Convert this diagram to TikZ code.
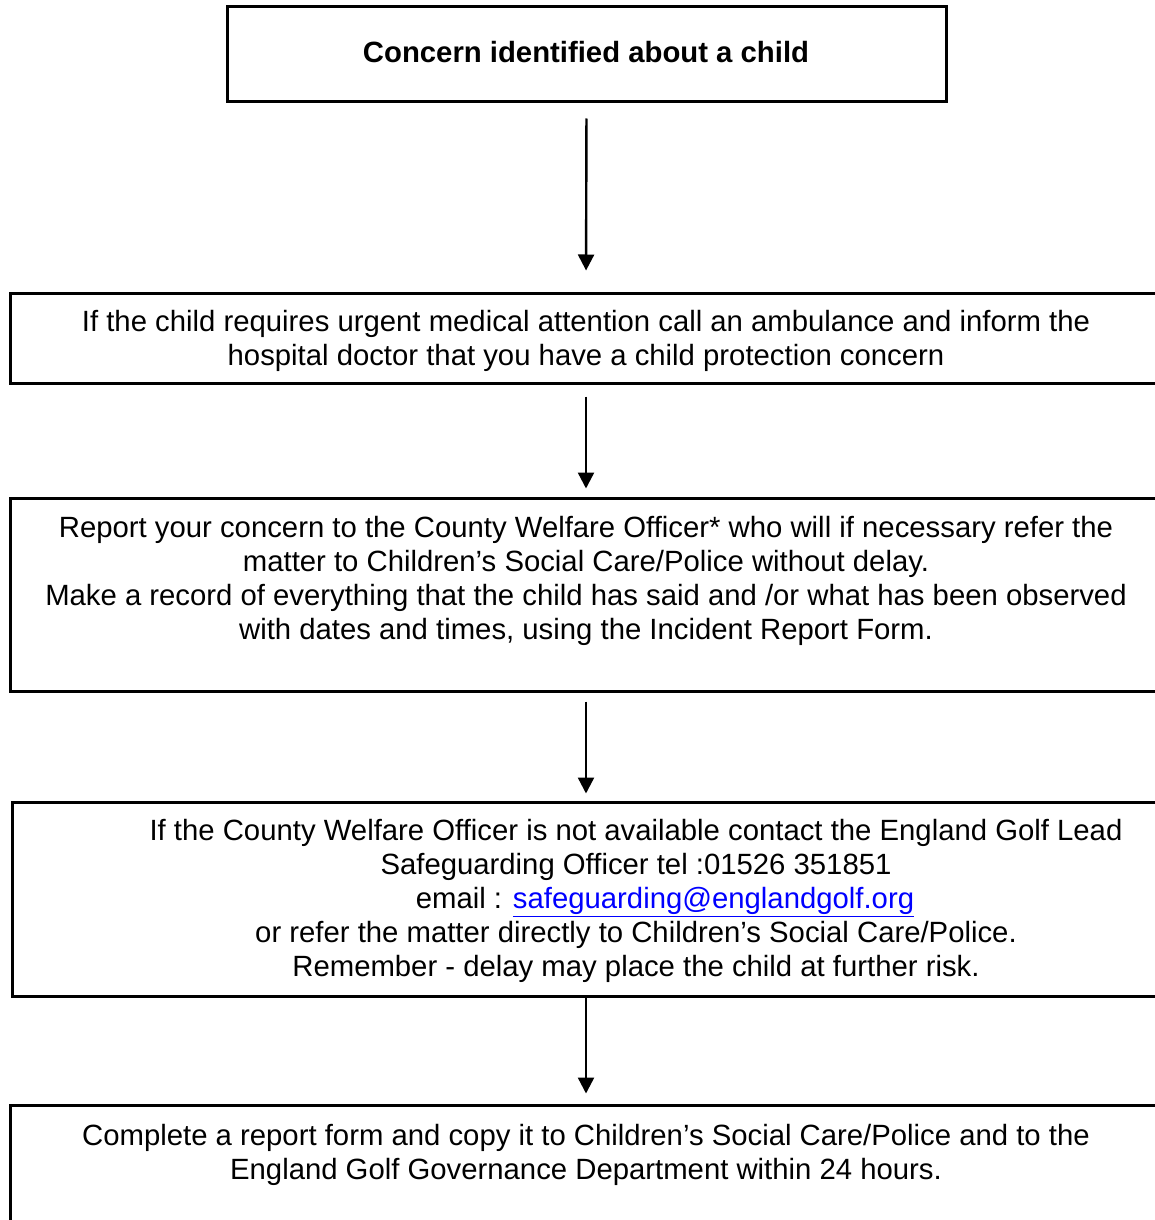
\documentclass[tikz,border=0pt]{standalone}
\usepackage{fontspec}
\setmainfont{Liberation Sans}
\usetikzlibrary{arrows.meta}
\definecolor{linkblue}{HTML}{0000FF}
\begin{document}
\begin{tikzpicture}[x=1pt,y=-1pt,
  box/.style={draw,line width=3pt,inner sep=0pt},
  txt/.style={align=center,font=\fontsize{29.3}{34}\selectfont,inner sep=0pt},
  arr/.style={line width=2.4pt,-{Triangle[width=16pt,length=16pt]}}]
\useasboundingbox (0,0) rectangle (1155,1220);
\clip (0,0) rectangle (1155,1220);
\node[box,minimum width=719pt,minimum height=95pt] (b1) at (586.5,54.5) {};
\node[box,minimum width=1152pt,minimum height=90pt] (b2) at (586,338) {};
\node[box,minimum width=1152pt,minimum height=193pt] (b3) at (586,594.5) {};
\node[box,minimum width=1148pt,minimum height=194pt] (b4) at (586,899) {};
\node[box,minimum width=1152pt,minimum height=195pt] (b5) at (586,1202.5) {};
\node[txt,font=\fontsize{29.3}{34}\selectfont\bfseries] (t1) at (586,52) {Concern identified about a child};
\node[txt] (t2) at (586,341) {If the child requires urgent medical attention call an ambulance and inform the\\hospital doctor that you have a child protection concern};
\node[txt] (t3) at (586,581) {Report your concern to the County Welfare Officer* who will if necessary refer the\\matter to Children’s Social Care/Police without delay.\\Make a record of everything that the child has said and /or what has been observed\\with dates and times, using the Incident Report Form.};
\node[txt] (t4) at (636,901) {If the County Welfare Officer is not available contact the England Golf Lead\\Safeguarding Officer tel :01526 351851\\\hspace*{58pt}email : \textcolor{linkblue}{\underline{safeguarding@englandgolf.org}}\\or refer the matter directly to Children’s Social Care/Police.\\Remember - delay may place the child at further risk.};
\node[txt] (t5) at (586,1155) {Complete a report form and copy it to Children’s Social Care/Police and to the\\England Golf Governance Department within 24 hours.};
\draw[arr,shorten <=15pt,shorten >=21pt] (b1.south) -- (b2.north);
\draw[arr,shorten <=12pt,shorten >=8pt] (b2.south) -- (b3.north);
\draw[arr,shorten <=9pt,shorten >=7pt] (b3.south) -- (b4.north);
\draw[arr,shorten >=10pt] (b4.south) -- (b5.north);
\end{tikzpicture}
\end{document}
